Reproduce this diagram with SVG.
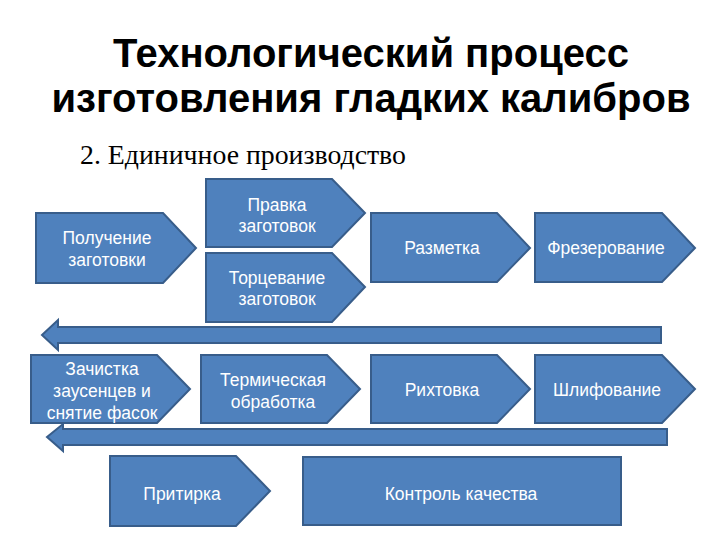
<svg xmlns="http://www.w3.org/2000/svg" width="720" height="540" viewBox="0 0 720 540">
<style>
.shape{fill:#4F81BD;stroke:#385D8A;stroke-width:2;stroke-linejoin:miter}
.lbl{font-family:"Liberation Sans",Arial,sans-serif;font-size:17.5px;fill:#FFFFFF;text-anchor:middle}
.title{font-family:"Liberation Sans",Arial,sans-serif;font-size:40px;font-weight:bold;fill:#000000;text-anchor:middle}
.sub{font-family:"Liberation Serif","Times New Roman",serif;font-size:27.8px;fill:#000000}
</style>
<rect width="720" height="540" fill="#FFFFFF"/>
<g id="title">
<text class="title" x="371" y="67">Технологический процесс</text>
<text class="title" x="371" y="112">изготовления гладких калибров</text>
<text class="sub" x="80" y="164">2. Единичное производство</text>
</g>
<g id="connectors">
<path class="shape" d="M42,335 L58,320 L58,327 L661,327 L661,343 L58,343 L58,350 Z"/>
<path class="shape" d="M47,437 L63,424 L63,429 L667,429 L667,445 L63,445 L63,451 Z"/>
</g>
<g id="n1">
<path class="shape" d="M36,213 L163,213 L196,248 L163,283 L36,283 Z"/>
<text class="lbl" x="107" y="244">Получение</text>
<text class="lbl" x="107" y="266">заготовки</text>
</g>
<g id="n2">
<path class="shape" d="M206,179 L332,179 L365,213 L332,247 L206,247 Z"/>
<text class="lbl" x="277" y="211">Правка</text>
<text class="lbl" x="277" y="232">заготовок</text>
</g>
<g id="n3">
<path class="shape" d="M206,253 L332,253 L365,287 L332,322 L206,322 Z"/>
<text class="lbl" x="277" y="284">Торцевание</text>
<text class="lbl" x="277" y="305">заготовок</text>
</g>
<g id="n4">
<path class="shape" d="M371,213 L497,213 L530,248 L497,282 L371,282 Z"/>
<text class="lbl" x="442" y="254">Разметка</text>
</g>
<g id="n5">
<path class="shape" d="M535,213 L662,213 L695,248 L662,282 L535,282 Z"/>
<text class="lbl" x="606" y="254">Фрезерование</text>
</g>
<g id="n6">
<path class="shape" d="M31,355 L157,355 L190,389 L157,423 L31,423 Z"/>
<text class="lbl" x="102" y="375">Зачистка</text>
<text class="lbl" x="102" y="397">заусенцев и</text>
<text class="lbl" x="102" y="419">снятие фасок</text>
</g>
<g id="n7">
<path class="shape" d="M201,355 L327,355 L360,389 L327,423 L201,423 Z"/>
<text class="lbl" x="273" y="386">Термическая</text>
<text class="lbl" x="273" y="408">обработка</text>
</g>
<g id="n8">
<path class="shape" d="M371,355 L497,355 L530,389 L497,423 L371,423 Z"/>
<text class="lbl" x="442" y="396">Рихтовка</text>
</g>
<g id="n9">
<path class="shape" d="M535,355 L662,355 L695,389 L662,423 L535,423 Z"/>
<text class="lbl" x="607" y="396">Шлифование</text>
</g>
<g id="n10">
<path class="shape" d="M110,456 L236,456 L270,491 L236,526 L110,526 Z"/>
<text class="lbl" x="182" y="500">Притирка</text>
</g>
<g id="n11">
<rect class="shape" x="303" y="457" width="318" height="68"/>
<text class="lbl" x="461" y="500">Контроль качества</text>
</g>
</svg>
